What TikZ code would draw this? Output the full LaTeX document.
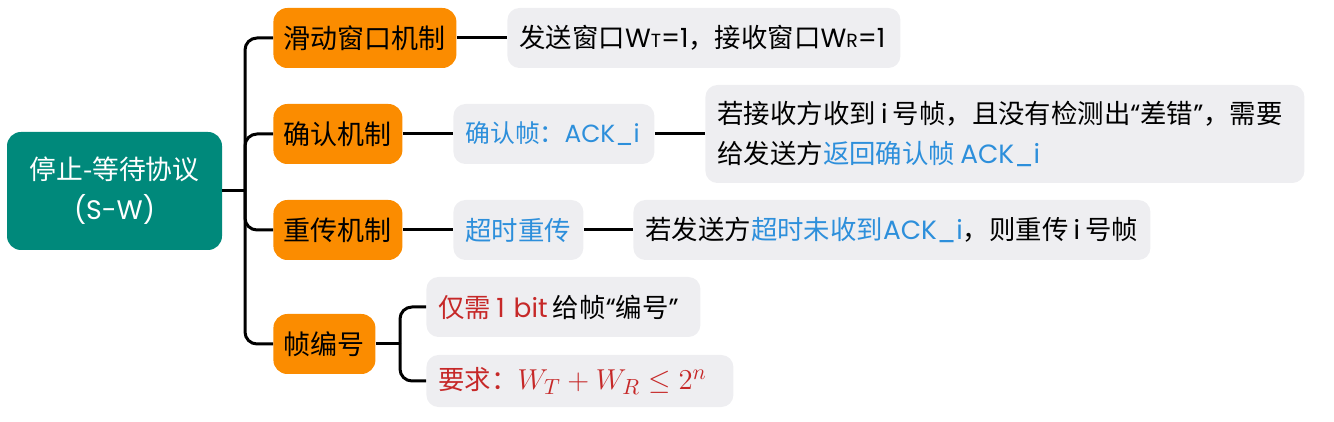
\documentclass[tikz,border=0pt]{standalone}
\usepackage{fontspec}
\setmainfont{Noto Sans CJK SC}
\newfontfamily\lat{Poppins}
\usetikzlibrary{positioning}
\definecolor{rootgreen}{HTML}{00897B}
\definecolor{mechorange}{HTML}{FB8C00}
\definecolor{notegray}{HTML}{EEEEF1}
\definecolor{keyblue}{HTML}{2D8FDB}
\definecolor{keyred}{HTML}{C62828}
\newcommand{\la}[1]{{\lat #1}}
\newcommand{\gap}{\hspace{0.2em}}

\begin{document}
\begin{tikzpicture}[x=0.5pt,y=-0.5pt,
    rootbox/.style={fill=rootgreen,text=white,rounded corners=7pt,minimum width=107.5pt,minimum height=59pt,align=center,font=\fontsize{13.4}{20}\selectfont},
    mech/.style={fill=mechorange,rounded corners=7pt,minimum height=30pt,anchor=west,inner xsep=5pt,font=\fontsize{13.5}{16}\selectfont},
    note/.style={fill=notegray,rounded corners=6pt,minimum height=30pt,anchor=west,inner xsep=6pt,align=left,font=\fontsize{13.2}{20}\selectfont},
    link/.style={line width=1.5pt,rounded corners=6pt}]
\useasboundingbox (0,0) rectangle (1334,422);

\node[rootbox] (root) at (114.5,191) {停止-等待协议\\\la{(S-W)}};

\foreach \t/\w/\y [count=\n] in {滑动窗口机制/91.5/38,确认机制/64.5/134,重传机制/64.5/230,帧编号/51/344}
  \node[mech,minimum width=\w pt] (M\n) at (273,\y) {\t};

\node[note,text width=184.5pt] (W) at (507,38) {\mbox{发送窗口\la{W{\fontsize{9.5}{9}\selectfont T}=1}，接收窗口\la{W{\fontsize{9.5}{9}\selectfont R}=1}}};
\node[note,text width=88.5pt,text=keyblue] (ackf) at (453,134) {\mbox{\fontsize{12.4}{20}\selectfont 确认帧：\la{ACK\_i}}};
\node[note,text width=287.5pt,minimum height=49pt] (ackdesc) at (705,134) {若接收方收到\gap\la{i}\gap 号帧，且没有检测出\la{“}差错\la{”}，需要\\给发送方\textcolor{keyblue}{返回确认帧\gap\la{ACK\_i}}};
\node[note,text width=53pt,text=keyblue] (tout) at (453,230) {\mbox{超时重传}};
\node[note,text width=246.5pt] (toutdesc) at (633,230) {\mbox{若发送方\textcolor{keyblue}{超时未收到\la{ACK\_i}}，则重传\gap\la{i}\gap 号帧}};
\node[note,text width=125pt] (bit) at (426,307) {\mbox{\textcolor{keyred}{仅需\gap\la{1 bit}}\gap 给帧\la{“}编号\la{”}}};
\node[note,text width=141.5pt,minimum height=26pt,text=keyred] (req) at (426,381) {\mbox{要求：{\fontsize{15}{20}\selectfont$W_T+W_R\le 2^n$}}};

\coordinate (trunk) at (245,191);
\coordinate (fork) at (400,344);

\draw[link] (root.east) -- (trunk);
\foreach \n in {1,...,4}
  \draw[link] (trunk) |- (M\n.west);
\draw[link] (M1.east) -- (W.west);
\draw[link] (M2.east) -- (ackf.west);
\draw[link] (ackf.east) -- (ackdesc.west);
\draw[link] (M3.east) -- (tout.west);
\draw[link] (tout.east) -- (toutdesc.west);
\draw[link] (M4.east) -- (fork);
\draw[link] (fork) |- (bit.west);
\draw[link] (fork) |- (req.west);
\end{tikzpicture}
\end{document}
